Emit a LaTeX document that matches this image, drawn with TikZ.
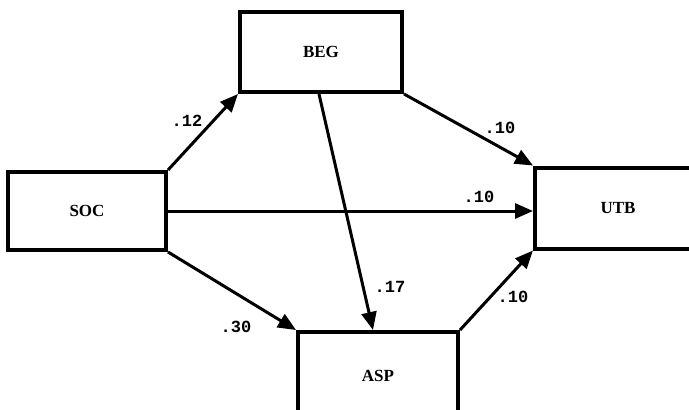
\documentclass[tikz,border=0pt]{standalone}
\usepackage{fontspec}
\setmainfont{Liberation Serif}
\newfontfamily\coefont{Liberation Mono}
\usetikzlibrary{arrows.meta}
\begin{document}
\begin{tikzpicture}[x=1pt,y=-1pt,
    var/.style={draw,line width=4pt,inner sep=0pt,font=\fontsize{17}{19}\selectfont\bfseries},
    coef/.style={font=\coefont\fontsize{17}{19}\selectfont\bfseries},
    path/.style={line width=3pt,-{Triangle[length=18pt,width=15pt]}}]
      \useasboundingbox (0,0) rectangle (689,410);
      \clip (0,0) rectangle (689,410);
      \draw
        (87,211) node[var,minimum width=158pt,minimum height=78pt] (soc){SOC}
        (321,52) node[var,minimum width=162pt,minimum height=80pt] (beg){BEG}
        (618,208) node[var,minimum width=166pt,minimum height=81pt] (utb){UTB}
        (378,376) node[var,minimum width=160pt,minimum height=88pt] (asp){ASP};
      \draw
        (187,121) node[coef] (p1){.12}
        (500,128) node[coef] (p2){.10}
        (479,197) node[coef] (p3){.10}
        (390,287) node[coef] (p4){.17}
        (236,327) node[coef] (p5){.30}
        (513,297) node[coef] (p6){.10};
      \begin{scope}[path]
        \draw (soc.north east) to (beg.south west);
        \draw (beg.south east) to (utb.north west);
        \draw (soc.east) to (soc.east -| utb.west);
        \draw ([xshift=-2pt]beg.south) to ([xshift=-5pt]asp.north);
        \draw (soc.south east) to (asp.north west);
        \draw (asp.north east) to (utb.south west);
      \end{scope}
    \end{tikzpicture}
\end{document}
